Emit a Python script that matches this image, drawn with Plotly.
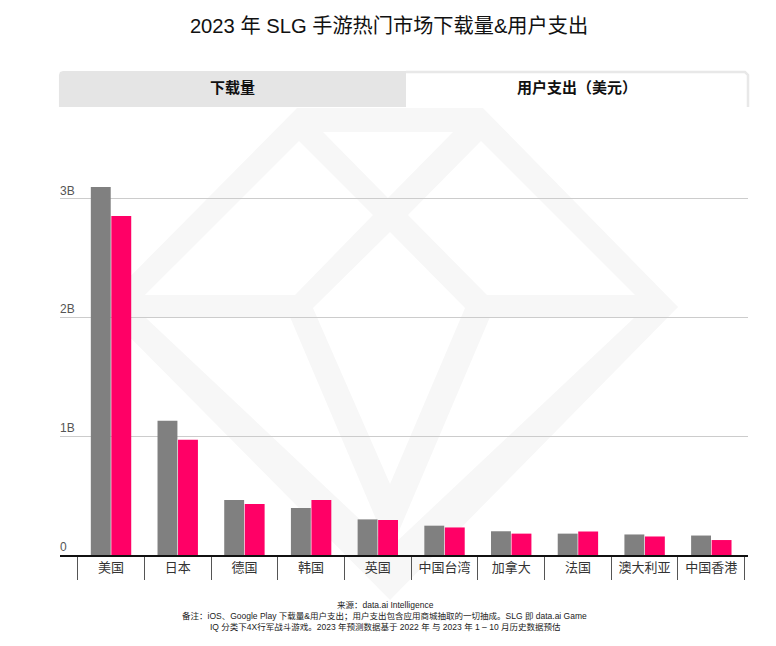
import plotly.graph_objects as go

regions = ['美国', '日本', '德国', '韩国', '英国', '中国台湾', '加拿大', '法国', '澳大利亚', '中国香港']
downloads = [3.10, 1.13, 0.463, 0.396, 0.30, 0.247, 0.20, 0.18, 0.173, 0.164]
spend = [2.856, 0.97, 0.43, 0.463, 0.295, 0.232, 0.18, 0.198, 0.156, 0.126]
y_ticks = [0, 1, 2, 3]
y_labels = ['0', '1B', '2B', '3B']

title = '2023 年 SLG 手游热门市场下载量&用户支出'
tabs = ['下载量', '用户支出（美元）']
footer = [
    '来源：data.ai Intelligence',
    '备注：iOS、Google Play 下载量&用户支出；用户支出包含应用商城抽取的一切抽成。SLG 即 data.ai Game',
    'IQ 分类下4X行军战斗游戏。2023 年预测数据基于 2022 年 与 2023 年 1 – 10 月历史数据预估',
]

# the page has an 8px body margin, so the figure starts at (8, 8)
PAGE = 8
W, H = 776 - 2 * PAGE, 646 - 2 * PAGE
L, R, T, B = 60 - PAGE, 776 - PAGE - 748, 110 - PAGE, 646 - PAGE - 555
FONT = 'Liberation Sans, Noto Sans CJK SC, sans-serif'


# page pixels to paper coordinates, for the decoration only
def px(x, y):
    return (x - PAGE - L) / (W - L - R), 1 - (y - PAGE - T) / (H - T - B)


def path(points, close=True):
    cmds = []
    for i, (x, y) in enumerate(points):
        a, b = px(x, y)
        cmds.append(('M' if i == 0 else 'L') + f'{a:.4f},{b:.4f}')
    return ' '.join(cmds) + (' Z' if close else '')


# diamond watermark: outer outline and its holes
gem = [
    [(100, 307), (297, 108), (483, 108), (678, 307), (390, 600)],
    [(299, 141), (373, 215), (295, 295), (145, 295)],
    [(323, 132), (453, 132), (388, 198)],
    [(481, 141), (408, 215), (487, 295), (635, 295)],
    [(390, 232), (465, 308), (390, 484), (313, 308)],
    [(145, 317), (290, 317), (387, 545)],
    [(635, 317), (490, 317), (393, 545)],
]

fig = go.Figure()
fig.add_bar(x=regions, y=downloads, marker_color='#808080', marker_line_width=0, name='下载量')
fig.add_bar(x=regions, y=spend, marker_color='#ff0066', marker_line_width=0, name='用户支出')

shapes = [
    dict(type='path', xref='paper', yref='paper', layer='below', line_width=0, fillcolor='#f7f7f7',
         fillrule='evenodd', path=' '.join(path(p) for p in gem)),
    dict(type='path', xref='paper', yref='paper', layer='above', line_width=0, fillcolor='#e5e5e5',
         path=path([(59, 75), (60, 72), (63, 71), (406, 71), (406, 107), (59, 107)])),
    dict(type='path', xref='paper', yref='paper', layer='above', line=dict(color='#e8e8e8', width=2.5),
         path=path([(406, 72), (745, 72), (748, 75), (748, 107)], close=False)),
]

annotations = [
    dict(text=tabs[0], x=232, y=88, font=dict(size=15, color='#111', weight='bold')),
    dict(text=tabs[1], x=577, y=88, font=dict(size=15, color='#111', weight='bold')),
    dict(text=footer[0], x=385, y=605, font=dict(size=8.5, color='#222')),
    dict(text=footer[1], x=384, y=616, font=dict(size=8.5, color='#222')),
    dict(text=footer[2], x=385, y=627, font=dict(size=8.5, color='#222')),
]
for a in annotations:
    a['x'], a['y'] = px(a['x'], a['y'])
    a.update(xref='paper', yref='paper', showarrow=False, xanchor='center', yanchor='middle')

fig.update_layout(
    width=W,
    height=H,
    margin=dict(l=L, r=R, t=T, b=B, autoexpand=False),
    paper_bgcolor='white',
    plot_bgcolor='rgba(0,0,0,0)',
    font=dict(family=FONT),
    showlegend=False,
    barmode='group',
    bargap=0.385,
    bargroupgap=0.03,
    title=dict(text=title, x=(389 - PAGE) / W, xanchor='center', y=1 - (26 - PAGE) / H, yanchor='middle',
               font=dict(size=20.2, color='#111')),
    shapes=shapes,
    annotations=annotations,
)
fig.update_xaxes(
    range=[-0.765, 9.55],
    tickson='boundaries',
    ticks='outside',
    ticklen=23,
    tickwidth=1,
    tickcolor='#555',
    showline=True,
    linecolor='#111',
    linewidth=2,
    showgrid=False,
    tickfont=dict(size=13, color='#333'),
    ticklabelstandoff=-1,
)
fig.update_yaxes(
    range=[0, (555 - 110) / 118.7],
    tickmode='array',
    tickvals=y_ticks,
    ticktext=y_labels,
    ticklabelposition='inside top',
    ticklabelstandoff=-3,
    showgrid=True,
    gridcolor='#cccccc',
    gridwidth=1,
    zeroline=False,
    showline=False,
    ticks='',
    tickfont=dict(size=12, color='#555'),
)

fig.write_html('out.html')
